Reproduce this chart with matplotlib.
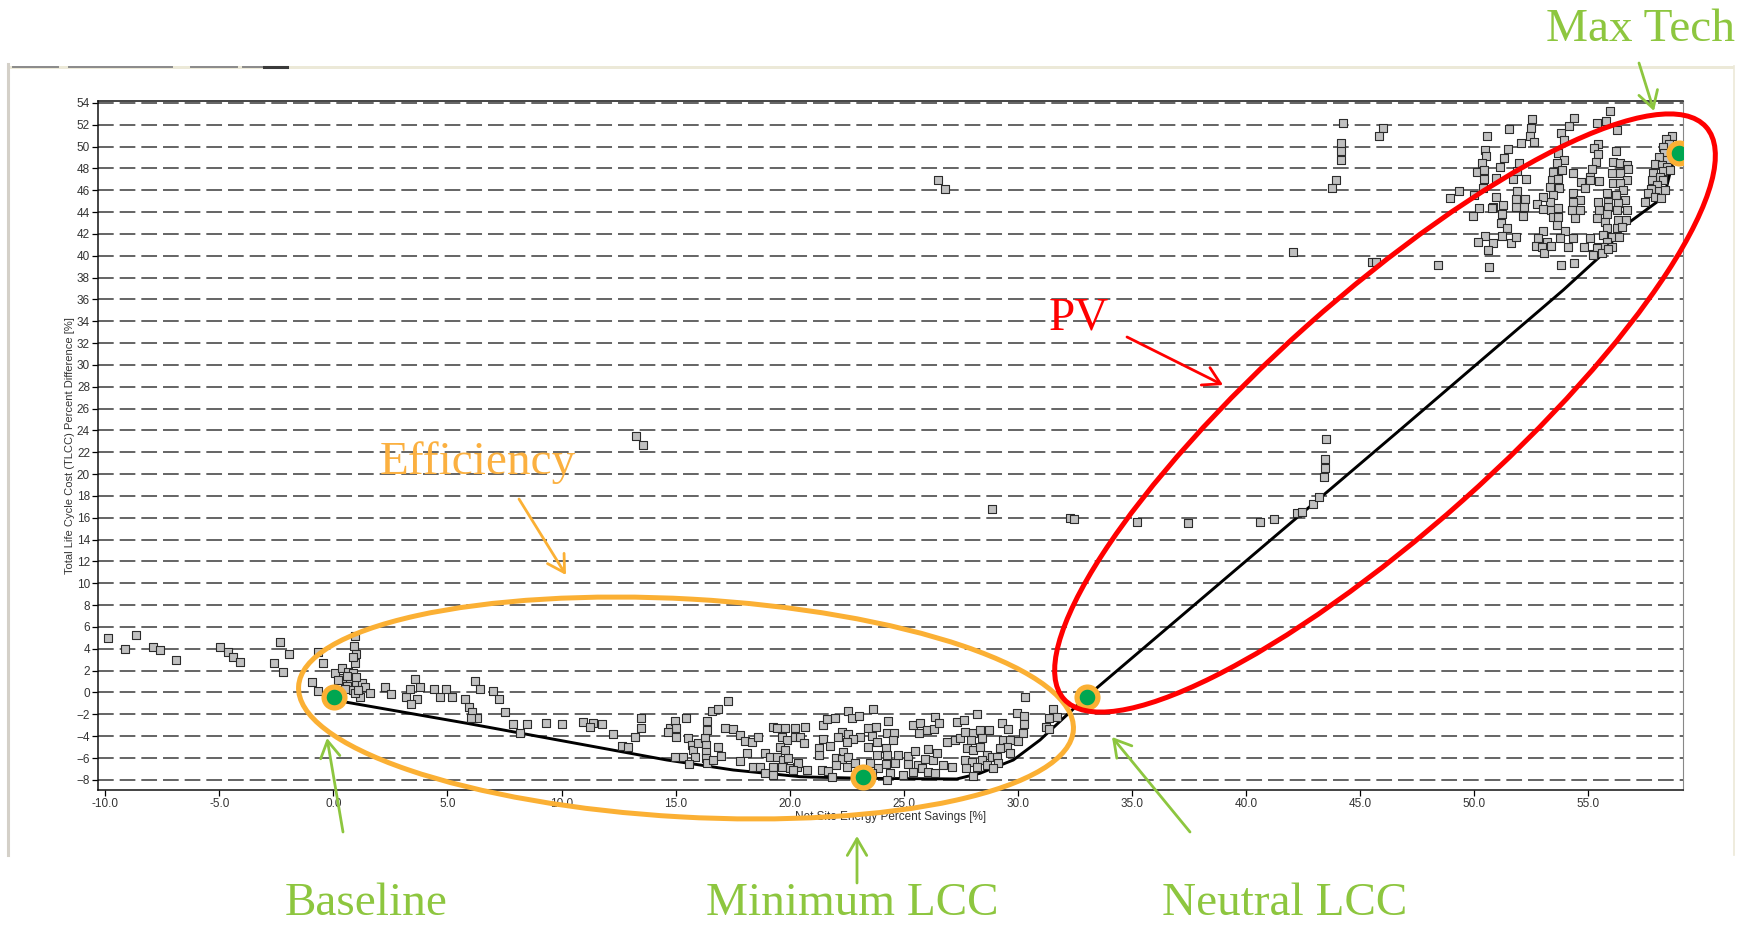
#!/usr/bin/env python3
"""Net site energy savings vs. TLCC difference, with design-option annotations."""

import matplotlib
matplotlib.use("Agg")
import matplotlib.pyplot as plt
from matplotlib.patches import Ellipse, Rectangle

plt.rcParams["font.family"] = ["Liberation Sans", "DejaVu Sans"]
plt.rcParams["lines.scale_dashes"] = False

W, H = 1752, 927

# simulated design options: (net site energy savings %, TLCC difference %)
cloud_left = [(-9.86, 5.02), (-9.11, 4.01), (-8.63, 5.27), (-7.89, 4.19), (-7.58, 3.92),
              (-6.89, 3.00), (-4.96, 4.19), (-4.63, 3.68), (-4.41, 3.28), (-4.09, 2.79),
              (-2.35, 4.60), (-1.95, 3.53), (-2.61, 2.70), (-2.22, 1.90), (-0.68, 3.68),
              (-0.46, 2.70), (-0.95, 0.99), (-0.67, 0.17)]

cloud_base = [(0.95, 5.17), (0.92, 4.26), (0.99, 3.50), (0.95, 2.67), (0.85, 3.22),
              (0.07, 1.81), (0.37, 2.21), (0.66, 1.90), (0.88, 1.81), (0.44, 1.30),
              (0.73, 1.14), (0.99, 0.84), (1.24, 0.84), (0.59, 0.60), (0.88, 0.23),
              (1.39, 0.48), (1.61, -0.07), (1.17, -0.38), (0.95, -0.07), (0.22, 1.14),
              (0.29, 0.23), (0.59, 1.51), (1.00, 1.40), (0.50, 0.30), (1.10, 0.20)]

cloud_eff = [(2.27, 0.53), (2.53, -0.17), (3.19, -0.38), (3.36, 0.29), (3.58, 1.21),
             (3.80, 0.48), (3.65, -0.63), (3.40, -1.08), (4.43, 0.32), (4.68, -0.44),
             (4.92, 0.32), (5.19, -0.44), (5.77, -0.60), (6.21, 1.08), (6.43, 0.32),
             (5.96, -1.30), (6.06, -1.81), (6.28, -2.36), (6.02, -2.36), (7.01, 0.17),
             (7.25, -0.60), (7.52, -1.76), (7.86, -2.91), (8.47, -2.91), (8.18, -3.74),
             (9.31, -2.76), (10.02, -2.91), (10.96, -2.67), (11.37, -2.76), (11.25, -3.19),
             (11.77, -2.91), (12.27, -3.83), (12.67, -4.90), (12.93, -4.96), (13.22, -4.05),
             (13.47, -3.28), (13.47, -2.36), (14.75, -3.28), (14.97, -2.58), (15.02, -3.28),
             (14.68, -3.59), (15.02, -4.05), (15.46, -2.36), (15.56, -4.20), (15.70, -4.81),
             (15.78, -5.27), (15.99, -4.65), (15.85, -5.88), (14.97, -5.88), (15.34, -5.88),
             (15.60, -6.55), (16.29, -4.20), (16.33, -4.81), (16.33, -5.42), (16.33, -6.03),
             (16.36, -3.43), (16.39, -2.58), (16.58, -1.67), (16.84, -1.51), (17.31, -0.75),
             (16.36, -6.49), (16.65, -6.18), (16.87, -5.02), (16.97, -5.82), (17.16, -3.28),
             (17.53, -3.37), (17.82, -3.89)]

cloud_min = [(18.04, -4.41), (18.33, -4.50), (18.62, -4.05), (18.12, -5.51), (17.82, -6.25),
             (18.40, -6.79), (18.70, -6.79), (18.92, -5.57), (19.25, -3.13), (19.43, -3.28),
             (19.79, -3.28), (20.23, -3.28), (19.65, -4.05), (19.87, -4.35), (19.57, -4.96),
             (19.79, -5.27), (19.14, -5.88), (19.43, -5.88), (19.72, -6.18), (19.94, -6.03),
             (19.28, -6.79), (19.65, -6.79), (20.01, -6.94), (20.31, -6.79), (18.92, -7.40),
             (19.28, -7.55), (20.23, -4.10), (20.67, -3.13), (20.45, -4.05), (20.63, -4.65),
             (20.38, -6.49), (20.75, -7.10), (20.16, -7.10), (21.47, -2.98), (21.62, -2.45),
             (21.98, -2.36), (22.57, -1.67), (22.72, -2.36), (23.04, -2.12), (23.64, -1.51),
             (21.45, -4.29), (21.30, -5.11), (21.30, -5.72), (21.77, -4.90), (22.28, -3.59),
             (22.13, -4.05), (22.57, -3.80), (23.08, -4.05), (22.79, -4.29), (22.50, -4.50),
             (22.35, -5.42), (22.03, -6.03), (22.28, -6.12), (22.57, -5.88), (22.03, -6.64),
             (21.40, -7.10), (21.69, -7.16), (22.50, -6.79), (22.86, -6.49), (21.84, -7.71),
             (23.44, -3.28), (23.78, -3.13), (23.59, -3.98), (23.81, -4.50), (23.44, -4.96),
             (23.81, -5.72), (23.52, -6.43), (23.88, -6.94), (23.59, -7.40), (24.25, -3.74),
             (24.32, -2.58), (24.58, -3.68), (24.22, -5.11), (24.54, -4.35), (24.25, -5.72),
             (24.61, -6.49), (24.22, -6.55), (24.39, -7.40), (24.25, -8.01), (24.76, -5.72),
             (24.98, -7.55), (25.20, -5.82), (25.20, -6.55), (25.49, -5.33), (25.64, -6.64),
             (25.42, -2.98), (25.71, -2.82), (26.00, -3.43), (26.32, -3.37), (26.37, -2.22),
             (26.56, -2.76), (25.68, -3.74), (25.42, -7.25), (25.78, -6.94), (26.07, -5.20),
             (25.93, -6.12), (26.29, -6.18), (26.44, -5.57), (26.07, -7.25), (26.37, -7.40),
             (26.73, -6.64), (26.88, -4.50), (27.10, -6.79), (27.24, -4.35), (27.46, -4.20),
             (27.32, -2.67), (27.65, -2.52), (28.22, -2.00), (27.68, -3.59), (28.05, -3.68),
             (28.34, -3.43), (28.73, -3.43), (27.93, -4.35), (28.41, -4.20), (27.76, -5.11),
             (28.05, -5.27), (28.34, -4.96), (28.63, -5.72), (27.68, -6.18), (27.97, -6.34),
             (28.41, -6.18), (28.85, -5.88), (27.73, -6.94), (28.20, -6.79), (28.63, -6.64),
             (28.05, -7.65), (29.29, -2.76), (29.58, -3.37), (29.33, -4.35), (29.65, -4.35),
             (29.97, -1.91), (30.28, -2.15), (30.28, -2.88), (30.24, -3.74), (30.02, -4.41),
             (30.31, -0.38), (29.51, -4.96), (29.65, -5.57), (29.22, -5.11), (29.07, -5.88),
             (29.14, -6.49), (28.92, -6.94), (31.38, -2.36), (31.53, -1.54), (31.73, -2.27),
             (31.23, -3.13), (31.35, -3.37)]

cloud_mid = [(13.28, 23.45), (13.55, 22.70), (26.50, 46.90), (26.80, 46.10), (28.85, 16.80),
             (32.28, 16.01), (32.48, 15.92), (35.20, 15.64), (37.46, 15.49), (40.61, 15.58),
             (41.22, 15.86), (42.21, 16.41), (42.43, 16.56), (42.94, 17.26), (43.18, 17.93),
             (43.50, 23.18), (43.45, 21.35), (43.45, 20.53), (43.41, 19.76), (42.04, 40.34),
             (45.50, 39.45), (45.69, 39.45), (44.23, 52.18), (44.16, 50.35), (44.16, 49.62),
             (44.16, 48.77), (43.92, 46.90), (43.75, 46.23), (46.01, 51.67), (45.82, 50.99)]

cloud_pv = [(52.52, 52.52), (52.47, 51.73), (52.42, 50.99), (52.63, 50.38), (52.04, 50.29),
            (51.50, 51.60), (50.55, 50.99), (50.47, 49.68), (50.52, 49.13), (51.47, 49.77),
            (51.32, 48.92), (51.13, 48.16), (51.98, 48.46), (51.86, 47.79), (51.69, 46.99),
            (52.27, 47.03), (50.33, 48.52), (50.11, 47.70), (50.43, 47.85), (50.44, 47.03),
            (50.93, 47.09), (50.37, 46.23), (50.00, 45.56), (49.32, 45.96), (48.95, 45.32),
            (50.93, 45.35), (51.25, 44.64), (50.84, 44.49), (50.77, 44.34), (50.20, 44.34),
            (49.95, 43.67), (51.20, 43.82), (51.86, 45.96), (51.83, 45.16), (52.23, 45.19),
            (51.82, 44.43), (52.18, 44.43), (52.15, 43.67), (51.16, 42.97), (51.45, 42.51),
            (51.20, 41.84), (50.47, 41.84), (50.18, 41.29), (50.81, 41.20), (50.58, 40.52),
            (51.60, 41.14), (51.83, 41.75), (48.40, 39.15), (50.65, 38.98), (53.79, 51.21),
            (53.93, 50.60), (54.17, 51.88), (54.37, 52.58), (55.37, 52.18), (55.78, 52.37),
            (55.95, 53.28), (56.24, 51.51), (55.44, 50.20), (55.25, 49.83), (55.40, 49.31),
            (55.34, 48.61), (55.16, 47.94), (55.07, 47.24), (56.21, 49.59), (53.69, 49.44),
            (53.91, 48.77), (53.61, 48.46), (53.83, 47.85), (53.47, 47.70), (53.39, 46.93),
            (53.69, 47.03), (53.32, 46.26), (53.73, 46.23), (54.34, 47.61), (54.67, 46.78),
            (55.05, 46.93), (54.86, 46.17), (55.48, 46.84), (54.31, 45.71), (54.64, 45.10),
            (54.31, 44.95), (54.27, 44.19), (54.64, 44.19), (54.42, 43.42), (53.44, 45.56),
            (53.32, 44.95), (53.00, 45.41), (52.74, 44.74), (53.00, 44.25), (53.37, 44.19),
            (53.69, 44.40), (53.47, 43.58), (53.66, 43.58), (53.61, 42.81), (53.98, 42.26),
            (53.03, 42.26), (52.81, 41.59), (53.18, 41.29), (52.71, 40.92), (52.96, 40.83),
            (53.06, 40.28), (53.37, 40.92), (53.76, 41.65), (54.10, 40.83), (54.31, 41.59),
            (53.79, 39.15), (54.39, 39.30), (54.81, 40.83), (55.07, 41.59), (55.22, 40.16),
            (55.44, 40.83), (56.07, 48.61), (56.39, 48.46), (56.68, 48.31), (56.73, 47.94),
            (56.02, 47.54), (56.39, 47.54), (56.68, 46.93), (56.07, 46.63), (56.39, 46.63),
            (56.53, 46.02), (55.80, 45.71), (56.21, 45.56), (56.61, 45.10), (56.68, 44.19),
            (56.32, 44.80), (55.88, 44.95), (55.44, 44.95), (55.48, 44.19), (55.88, 44.49),
            (56.24, 44.19), (55.83, 43.79), (55.37, 43.42), (55.73, 43.12), (56.32, 43.27),
            (56.65, 43.27), (55.80, 42.51), (56.24, 42.57), (56.46, 42.66), (55.66, 41.90),
            (56.02, 41.75), (56.36, 41.68), (55.80, 41.29), (55.66, 40.83), (56.02, 40.83),
            (55.37, 40.68), (55.19, 40.07), (55.58, 40.22), (55.88, 40.59), (58.65, 50.96),
            (58.40, 50.66), (58.55, 50.20), (58.26, 49.99), (58.32, 49.38), (58.11, 49.07),
            (58.43, 48.77), (57.92, 48.37), (58.21, 48.31), (58.46, 48.16), (57.85, 47.54),
            (58.29, 47.79), (58.58, 47.85), (58.14, 47.18), (57.78, 46.93), (58.26, 46.93),
            (58.00, 46.48), (57.73, 46.08), (58.11, 45.96), (58.36, 46.02), (57.63, 45.71),
            (57.92, 45.41), (57.48, 44.95), (58.17, 45.26)]

# least-cost curve through the option cloud
front_x = [0.04, 0.44, 5.85, 10.23, 14.61, 17.53, 20.45, 21.03, 23.23, 27.32, 28.34,
           29.80, 30.97, 31.99, 33.01, 46.74, 53.90, 55.65, 56.53, 57.99, 58.43, 58.65, 58.97]
front_y = [-0.38, -0.84, -2.82, -4.50, -6.18, -7.10, -7.71, -7.75, -7.86, -7.92, -7.40,
           -6.18, -4.35, -2.36, -0.38, 24.04, 36.86, 40.20, 42.66, 44.90, 46.30, 48.20, 49.40]

# highlighted packages: Baseline, Minimum LCC, Neutral LCC, Max Tech
key_x = [0.04, 23.20, 33.01, 58.97]
key_y = [-0.38, -7.71, -0.38, 49.40]

x_ticks = list(range(-10, 60, 5))
y_ticks = list(range(-8, 56, 2))

GREEN = "#8dc63f"
ORANGE = "#fbb034"
RED = "#ff0000"

fig = plt.figure(figsize=(W / 100, H / 100), dpi=100)
fig.patch.set_facecolor("white")

# main axes, placed in pixels
left, right, top, bottom = 98.3, 1683.3, 100.7, 790.0
ax = fig.add_axes([left / W, 1 - bottom / H, (right - left) / W, (bottom - top) / H])
ax.set_xlim(-10.3, 59.16)
ax.set_ylim(-8.93, 54.2)
ax.set_xticks(x_ticks)
ax.set_xticklabels([f"{t:.1f}" for t in x_ticks])
ax.set_yticks(y_ticks)
ax.tick_params(labelsize=8.5, labelcolor="#333333", length=4, width=0.9, pad=2)
ax.yaxis.grid(True, color="#4a4a4a", lw=1.2, linestyle=(0, (11.3, 4.3)))
ax.set_axisbelow(True)
for side in ("left", "bottom", "top"):
    ax.spines[side].set_color("#111111")
    ax.spines[side].set_linewidth(1.1)
ax.spines["right"].set_color("#888888")

ax.set_xlabel("Net Site Energy Percent Savings [%]", fontsize=8.5, color="#333333")
ax.set_ylabel("Total Life Cycle Cost (TLCC) Percent Difference [%]", fontsize=8, color="#333333")
ax.xaxis.set_label_coords(0.5, -0.031)
ax.yaxis.set_label_coords(-0.015, 0.5)

all_pts = cloud_left + cloud_base + cloud_eff + cloud_min + cloud_mid + cloud_pv
px = [p[0] for p in all_pts]
py = [p[1] for p in all_pts]

ax.plot(front_x, front_y, color="black", lw=2.1, zorder=2)
ax.scatter(px, py, marker="s", s=36, facecolor="#c0c0c0", edgecolor="#2b2b2b",
           linewidth=0.8, zorder=3)
ax.plot(key_x, key_y, "o", markersize=15, markerfacecolor="#00a651",
        markeredgecolor=ORANGE, markeredgewidth=3.8, zorder=5)

# overlay in figure pixels for the window frame and callouts
ov = fig.add_axes([0, 0, 1, 1], zorder=10)
ov.set_xlim(0, W)
ov.set_ylim(H, 0)
ov.axis("off")
ov.patch.set_alpha(0)

ov.add_patch(Rectangle((8, 65.7), 1726, 3.5, color="#ece9d8", lw=0))
ov.plot([8, 8], [64, 855], color="#d4d0c8", lw=2.2)
ov.plot([1734, 1734], [66, 855], color="#ece9d8", lw=1.2)
for x0, x1 in [(13, 58), (69, 172), (191, 237), (243, 287)]:
    ov.plot([x0, x1], [66.5, 66.5], color="#8a8a8a", lw=1.4)
ov.plot([264, 287], [66.5, 66.5], color="#3a3a3a", lw=2.2)

ov.add_patch(Ellipse((686, 708), 2 * 388, 2 * 109, angle=3.2, fill=False,
                     edgecolor=ORANGE, lw=3.6))
ov.add_patch(Ellipse((1385, 413), 2 * 430, 2 * 117, angle=-41.7, fill=False,
                     edgecolor=RED, lw=3.6))

serif = ["Liberation Serif", "DejaVu Serif"]
ov.text(1735, 40.7, "Max Tech", fontsize=34, family=serif, color=GREEN, ha="right", va="baseline")
ov.text(1049, 329, "PV", fontsize=34, family=serif, color=RED, ha="left", va="baseline")
ov.text(380, 474, "Efficiency", fontsize=34, family=serif, color="#fbb040", ha="left", va="baseline")
ov.text(285, 925, "Baseline", fontsize=34, family=serif, color=GREEN, ha="left", va="bottom")
ov.text(706, 925, "Minimum LCC", fontsize=34, family=serif, color=GREEN, ha="left", va="bottom")
ov.text(1162, 925, "Neutral LCC", fontsize=34, family=serif, color=GREEN, ha="left", va="bottom")

arrows = [
    ((1639, 63), (1654, 111), GREEN),
    ((1127, 337), (1223, 385), RED),
    ((519, 499), (566, 575), ORANGE),
    ((343, 832), (327, 738), GREEN),
    ((857, 883), (857, 836), GREEN),
    ((1190, 832), (1112, 737), GREEN),
]
for tail, tip, col in arrows:
    ov.annotate("", xy=tip, xytext=tail,
                arrowprops=dict(arrowstyle="->,head_length=0.6,head_width=0.35",
                                color=col, lw=2.0, mutation_scale=20,
                                shrinkA=0, shrinkB=0))

fig.savefig("out.png", dpi=100)
plt.close(fig)
